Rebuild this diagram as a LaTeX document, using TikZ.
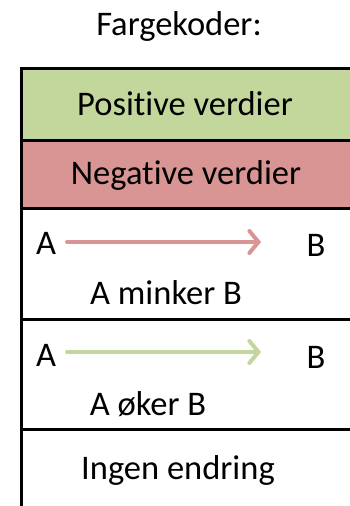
\documentclass[tikz,border=0pt]{standalone}
\usepackage{fontspec}
\setmainfont[Ligatures=NoCommon]{Carlito}
\usetikzlibrary{arrows.meta}
\definecolor{posgreen}{HTML}{C3D69B}
\definecolor{negred}{HTML}{D99594}
\begin{document}
\begin{tikzpicture}[x=1pt,y=-1pt,
  lbl/.style={font=\fontsize{34.5}{40}\selectfont, inner sep=0pt, anchor=center},
  row/.style={draw=black, line width=3pt, inner sep=0pt, anchor=north west, minimum width=360pt},
  relarrow/.style={line width=4pt, line cap=round, -{Straight Barb[length=9pt,width=22pt,line cap=round]}}
]
\useasboundingbox (0,0) rectangle (350,506);
\clip (0,0) rectangle (350,506);
\node[lbl] (title) at (179,26) {Fargekoder:};
\node[row, fill=posgreen, minimum height=72pt] (r1) at (20,67) {};
\node[row, fill=negred, minimum height=68pt] (r2) at (20,139) {};
\node[row, fill=white, minimum height=111pt] (r3) at (20,207) {};
\node[row, fill=white, minimum height=110pt] (r4) at (20,318) {};
\node[row, fill=white, minimum height=100pt] (r5) at (20,428) {};
\node[lbl] (pos) at (185,104) {Positive verdier};
\node[lbl] (neg) at (186,175) {Negative verdier};
\node[lbl] (a1) at (46,243) {A};
\node[lbl] (b1) at (316,245) {B};
\coordinate (e1) at (261,242);
\draw[relarrow, draw=negred] (67,242) -- (e1);
\node[lbl] (t1) at (166,293) {A minker B};
\node[lbl] (a2) at (46,355) {A};
\node[lbl] (b2) at (316,357) {B};
\coordinate (e2) at (261,352);
\draw[relarrow, draw=posgreen] (67,352) -- (e2);
\node[lbl] (t2) at (148,404) {A øker B};
\node[lbl] (t3) at (178,470) {Ingen endring};
\end{tikzpicture}
\end{document}
